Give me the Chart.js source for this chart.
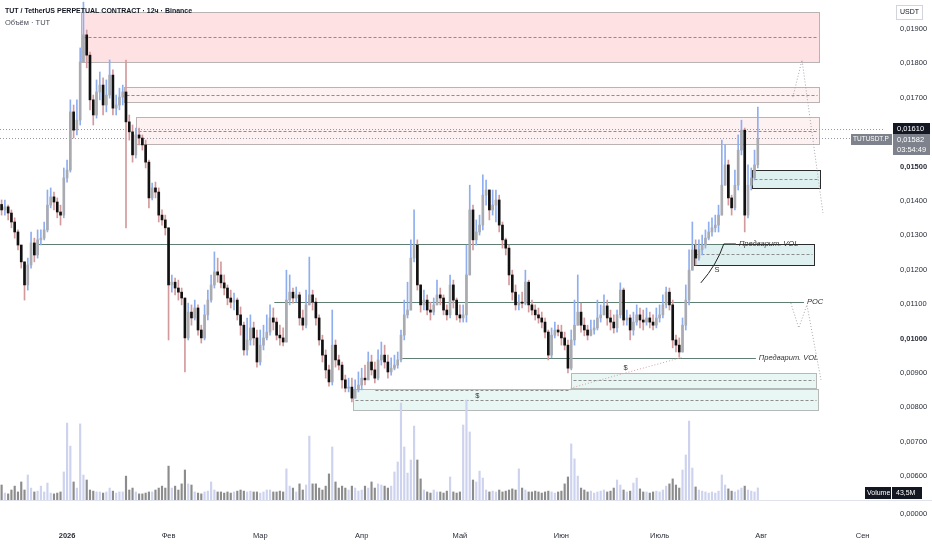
<!DOCTYPE html>
<html>
<head>
<meta charset="utf-8">
<script src="https://cdn.jsdelivr.net/npm/chart.js@4.4.1/dist/chart.umd.min.js"></script>
<style>
  html, body { margin: 0; padding: 0; background: #ffffff; }
  #wrap { width: 932px; height: 550px; }
</style>
</head>
<body>
<div id="wrap"><canvas id="tutChart" width="932" height="550"></canvas></div>
<script>
// day index 0 = 1 Jan 2026, first candle = 12 Dec 2025
const FIRST_DAY = -20;
const firstOpen = 0.01390;

// daily closes (rows of 10 days)
const closes = [
  0.01374, 0.01383, 0.01365, 0.01339, 0.01310, 0.01272, 0.01223, 0.01156, 0.01214, 0.01278,
  0.01243, 0.01287, 0.01292, 0.01316, 0.01388, 0.01412, 0.01397, 0.01368, 0.01359, 0.01467,
  0.01490, 0.01659, 0.01606, 0.01635, 0.01804, 0.01883, 0.01824, 0.01694, 0.01650, 0.01717,
  0.01737, 0.01679, 0.01708, 0.01766, 0.01670, 0.01679, 0.01702, 0.01717, 0.01630, 0.01601,
  0.01534, 0.01592, 0.01583, 0.01563, 0.01513, 0.01409, 0.01438, 0.01426, 0.01359, 0.01345,
  0.01322, 0.01156, 0.01164, 0.01147, 0.01135, 0.01118, 0.01002, 0.01077, 0.01060, 0.01089,
  0.01025, 0.01002, 0.01069, 0.01112, 0.01156, 0.01194, 0.01185, 0.01162, 0.01147, 0.01118,
  0.01106, 0.01112, 0.01069, 0.01039, 0.00967, 0.00996, 0.01031, 0.01002, 0.00932, 0.00981,
  0.01002, 0.01019, 0.01060, 0.01048, 0.01010, 0.01002, 0.00990, 0.01112, 0.01135, 0.01118,
  0.01127, 0.01060, 0.01039, 0.01098, 0.01127, 0.01106, 0.01060, 0.00996, 0.00952, 0.00909,
  0.00874, 0.00981, 0.00938, 0.00923, 0.00880, 0.00856, 0.00859, 0.00827, 0.00851, 0.00865,
  0.00885, 0.00880, 0.00932, 0.00909, 0.00885, 0.00938, 0.00952, 0.00932, 0.00903, 0.00914,
  0.00923, 0.00938, 0.01010, 0.01069, 0.01083, 0.01234, 0.01272, 0.01156, 0.01098, 0.01112,
  0.01083, 0.01077, 0.01098, 0.01127, 0.01118, 0.01083, 0.01069, 0.01156, 0.01112, 0.01069,
  0.01060, 0.01069, 0.01185, 0.01374, 0.01287, 0.01310, 0.01330, 0.01417, 0.01432, 0.01374,
  0.01388, 0.01403, 0.01330, 0.01287, 0.01263, 0.01185, 0.01135, 0.01098, 0.01106, 0.01103,
  0.01164, 0.01098, 0.01083, 0.01069, 0.01060, 0.01048, 0.01019, 0.00952, 0.01010, 0.01025,
  0.01019, 0.01002, 0.00981, 0.00914, 0.00996, 0.01039, 0.01077, 0.01039, 0.01025, 0.01010,
  0.01025, 0.01031, 0.01060, 0.01069, 0.01095, 0.01060, 0.01048, 0.01031, 0.01069, 0.01141,
  0.01054, 0.01060, 0.01025, 0.01048, 0.01069, 0.01054, 0.01048, 0.01060, 0.01048, 0.01039,
  0.01060, 0.01069, 0.01098, 0.01135, 0.01098, 0.00996, 0.00981, 0.00961, 0.01039, 0.01112,
  0.01199, 0.01258, 0.01234, 0.01258, 0.01272, 0.01292, 0.01310, 0.01322, 0.01330, 0.01359,
  0.01446, 0.01505, 0.01409, 0.01380, 0.01446, 0.01548, 0.01606, 0.01359, 0.01446, 0.01467,
  0.01505, 0.01582
];

const highs = [
  0.01403, 0.01403, 0.01388, 0.01374, 0.01351, 0.01316, 0.01272, 0.01223, 0.01234, 0.01310,
  0.01292, 0.01316, 0.01316, 0.01339, 0.01432, 0.01438, 0.01426, 0.01409, 0.01388, 0.01496,
  0.01519, 0.01694, 0.01679, 0.01694, 0.01845, 0.01978, 0.01897, 0.01833, 0.01708, 0.01752,
  0.01775, 0.01758, 0.01752, 0.01810, 0.01781, 0.01708, 0.01728, 0.01737, 0.01810, 0.01650,
  0.01621, 0.01612, 0.01612, 0.01592, 0.01577, 0.01519, 0.01452, 0.01455, 0.01438, 0.01374,
  0.01359, 0.01322, 0.01185, 0.01176, 0.01170, 0.01147, 0.01118, 0.01103, 0.01098, 0.01112,
  0.01098, 0.01039, 0.01098, 0.01141, 0.01185, 0.01252, 0.01234, 0.01223, 0.01185, 0.01156,
  0.01141, 0.01132, 0.01118, 0.01092, 0.01048, 0.01060, 0.01069, 0.01048, 0.01025, 0.01025,
  0.01039, 0.01069, 0.01098, 0.01089, 0.01060, 0.01039, 0.01031, 0.01199, 0.01185, 0.01147,
  0.01150, 0.01135, 0.01083, 0.01141, 0.01237, 0.01141, 0.01118, 0.01069, 0.01010, 0.00967,
  0.00923, 0.01083, 0.00996, 0.00952, 0.00932, 0.00894, 0.00885, 0.00885, 0.00880, 0.00903,
  0.00914, 0.00923, 0.00961, 0.00952, 0.00932, 0.00967, 0.00990, 0.00981, 0.00952, 0.00944,
  0.00952, 0.00961, 0.01025, 0.01112, 0.01164, 0.01287, 0.01374, 0.01287, 0.01156, 0.01141,
  0.01127, 0.01106, 0.01118, 0.01170, 0.01147, 0.01127, 0.01098, 0.01185, 0.01170, 0.01118,
  0.01098, 0.01098, 0.01272, 0.01446, 0.01388, 0.01345, 0.01359, 0.01476, 0.01461, 0.01417,
  0.01432, 0.01432, 0.01417, 0.01339, 0.01292, 0.01272, 0.01199, 0.01156, 0.01127, 0.01135,
  0.01199, 0.01170, 0.01112, 0.01098, 0.01089, 0.01077, 0.01060, 0.01025, 0.01031, 0.01048,
  0.01039, 0.01039, 0.01019, 0.00996, 0.01025, 0.01112, 0.01185, 0.01103, 0.01060, 0.01039,
  0.01054, 0.01054, 0.01112, 0.01098, 0.01127, 0.01112, 0.01083, 0.01069, 0.01083, 0.01162,
  0.01147, 0.01083, 0.01069, 0.01077, 0.01098, 0.01089, 0.01083, 0.01089, 0.01077, 0.01069,
  0.01089, 0.01098, 0.01127, 0.01150, 0.01147, 0.01112, 0.01010, 0.01002, 0.01060, 0.01156,
  0.01258, 0.01339, 0.01287, 0.01287, 0.01301, 0.01316, 0.01339, 0.01351, 0.01359, 0.01388,
  0.01577, 0.01563, 0.01519, 0.01417, 0.01490, 0.01592, 0.01635, 0.01612, 0.01505, 0.01496,
  0.01548, 0.01673
];

const lows = [
  0.01359, 0.01359, 0.01345, 0.01322, 0.01292, 0.01258, 0.01205, 0.01112, 0.01141, 0.01205,
  0.01223, 0.01234, 0.01272, 0.01287, 0.01310, 0.01380, 0.01374, 0.01351, 0.01330, 0.01351,
  0.01455, 0.01484, 0.01583, 0.01592, 0.01621, 0.01804, 0.01787, 0.01665, 0.01621, 0.01641,
  0.01694, 0.01650, 0.01659, 0.01699, 0.01650, 0.01650, 0.01665, 0.01679, 0.01322, 0.01577,
  0.01513, 0.01525, 0.01563, 0.01548, 0.01496, 0.01380, 0.01403, 0.01409, 0.01339, 0.01330,
  0.01301, 0.00996, 0.01135, 0.01127, 0.01112, 0.01098, 0.00903, 0.00996, 0.01039, 0.01054,
  0.01010, 0.00987, 0.00996, 0.01054, 0.01106, 0.01147, 0.01164, 0.01147, 0.01127, 0.01098,
  0.01089, 0.01083, 0.01054, 0.01010, 0.00952, 0.00952, 0.00981, 0.00981, 0.00917, 0.00923,
  0.00967, 0.00996, 0.01010, 0.01025, 0.00996, 0.00981, 0.00979, 0.00990, 0.01098, 0.01103,
  0.01106, 0.01039, 0.01025, 0.01031, 0.01098, 0.01083, 0.01039, 0.00981, 0.00932, 0.00885,
  0.00862, 0.00865, 0.00917, 0.00909, 0.00856, 0.00845, 0.00845, 0.00816, 0.00827, 0.00845,
  0.00851, 0.00865, 0.00880, 0.00894, 0.00871, 0.00880, 0.00923, 0.00914, 0.00885, 0.00894,
  0.00909, 0.00914, 0.00932, 0.00996, 0.01060, 0.01083, 0.01223, 0.01141, 0.01077, 0.01083,
  0.01069, 0.01054, 0.01069, 0.01106, 0.01098, 0.01069, 0.01054, 0.01060, 0.01089, 0.01054,
  0.01048, 0.01048, 0.01048, 0.01194, 0.01258, 0.01272, 0.01301, 0.01316, 0.01388, 0.01345,
  0.01359, 0.01339, 0.01310, 0.01263, 0.01243, 0.01156, 0.01112, 0.01083, 0.01083, 0.01089,
  0.01098, 0.01077, 0.01069, 0.01054, 0.01045, 0.01031, 0.01002, 0.00938, 0.00944, 0.01002,
  0.01008, 0.00981, 0.00967, 0.00900, 0.00909, 0.00981, 0.01054, 0.01019, 0.01008, 0.00996,
  0.01008, 0.01013, 0.01025, 0.01048, 0.01069, 0.01039, 0.01025, 0.01016, 0.01019, 0.01060,
  0.01039, 0.01039, 0.00996, 0.01010, 0.01039, 0.01031, 0.01025, 0.01039, 0.01031, 0.01025,
  0.01031, 0.01048, 0.01060, 0.01089, 0.01083, 0.00973, 0.00961, 0.00946, 0.00967, 0.01025,
  0.01098, 0.01205, 0.01214, 0.01228, 0.01243, 0.01263, 0.01287, 0.01298, 0.01310, 0.01310,
  0.01359, 0.01446, 0.01388, 0.01359, 0.01374, 0.01432, 0.01534, 0.01310, 0.01351, 0.01432,
  0.01461, 0.01496
];

// volume, millions of TUT
const volumes = [
  54, 25, 22, 36, 50, 29, 65, 36, 90, 43,
  29, 32, 50, 29, 61, 25, 22, 25, 29, 101,
  277, 194, 65, 43, 274, 90, 72, 36, 32, 29,
  29, 25, 29, 43, 32, 25, 29, 29, 86, 36,
  43, 29, 22, 22, 25, 29, 29, 36, 43, 50,
  43, 122, 43, 50, 36, 58, 108, 58, 54, 29,
  25, 22, 29, 32, 65, 36, 29, 29, 25, 29,
  25, 29, 32, 36, 32, 29, 32, 29, 29, 25,
  29, 36, 36, 29, 29, 32, 29, 112, 50, 43,
  29, 58, 36, 54, 230, 58, 58, 43, 36, 50,
  94, 191, 65, 43, 50, 43, 36, 50, 43, 32,
  36, 50, 43, 65, 43, 58, 54, 50, 43, 50,
  101, 137, 349, 191, 97, 144, 266, 144, 76, 36,
  29, 25, 36, 29, 29, 25, 32, 83, 29, 25,
  29, 270, 360, 245, 72, 65, 104, 79, 36, 29,
  32, 29, 36, 29, 32, 36, 40, 36, 112, 43,
  36, 29, 29, 32, 29, 25, 29, 32, 29, 25,
  29, 32, 58, 83, 202, 148, 86, 43, 36, 29,
  32, 25, 29, 32, 36, 29, 32, 43, 72, 54,
  36, 29, 32, 61, 79, 40, 29, 29, 25, 29,
  32, 29, 36, 50, 58, 76, 54, 43, 108, 162,
  284, 115, 47, 36, 32, 29, 25, 29, 25, 32,
  90, 54, 40, 32, 29, 36, 43, 50, 36, 32,
  29, 43.5
];

const priceTicks = [0.006, 0.007, 0.008, 0.009, 0.010, 0.011, 0.012, 0.013, 0.014, 0.015, 0.016, 0.017, 0.018, 0.019];
const monthDays = [0, 31, 59, 90, 120, 151, 181, 212, 243];
const monthLabels = ['2026', 'Фев', 'Мар', 'Апр', 'Май', 'Июн', 'Июль', 'Авг', 'Сен'];

// drawn zones (day index / price)
const zones = [
  { d0: 4.2, d1: 229.7, top: 0.01949, bottom: 0.01804, mid: 0.01877, kind: 'redStrong' },
  { d0: 17.4, d1: 229.7, top: 0.01731, bottom: 0.01688, mid: 0.01708, kind: 'red' },
  { d0: 21.1, d1: 229.7, top: 0.01644, bottom: 0.01566, mid: 0.01603, kind: 'red' },
  { d0: 209.2, d1: 230.0, top: 0.01490, bottom: 0.01438, mid: 0.01464, kind: 'greenDark' },
  { d0: 191.4, d1: 228.1, top: 0.01275, bottom: 0.01214, mid: 0.01246, kind: 'greenDark' },
  { d0: 153.8, d1: 228.7, top: 0.00900, bottom: 0.00856, mid: 0.00880, kind: 'green' },
  { d0: 87.2, d1: 229.4, top: 0.00854, bottom: 0.00792, mid: 0.00822, kind: 'green' }
];
const levels = [
  { price: 0.01275, d0: -8.9, d1: 204.3, label: 'Предварит. VOL' },
  { price: 0.01106, d0: 63.3, d1: 225.1, label: 'POC' },
  { price: 0.00944, d0: 102.4, d1: 210.4, label: 'Предварит. VOL' }
];
const priceLines = [0.01610, 0.01582];
const lastPrice = 0.01582;
const markPrice = 0.01610;

const FONT = '"Liberation Sans", Arial, sans-serif';

const days = closes.map((_, i) => FIRST_DAY + i);
const opens = closes.map((c, i) => i === 0 ? firstOpen : closes[i - 1]);
const isUp = closes.map((c, i) => c >= opens[i]);

const bodyData = days.map((d, i) => ({ x: d, y: [opens[i], closes[i]] }));
const wickData = days.map((d, i) => ({
  x: d,
  y: [Math.min(lows[i], opens[i], closes[i]), Math.max(highs[i], opens[i], closes[i])]
}));
const volData = days.map((d, i) => ({ x: d, y: volumes[i] }));

function seg(ctx, x0, y0, x1, y1) {
  ctx.beginPath();
  ctx.moveTo(x0, y0);
  ctx.lineTo(x1, y1);
  ctx.stroke();
}

const zoneStyles = {
  redStrong: { fill: 'rgba(242, 54, 69, 0.15)', border: '#b9b3b4', width: 1 },
  red: { fill: 'rgba(242, 54, 69, 0.07)', border: '#b9b3b4', width: 1 },
  greenDark: { fill: 'rgba(0, 150, 136, 0.13)', border: '#2b2b2b', width: 1 },
  green: { fill: 'rgba(0, 150, 136, 0.09)', border: '#b5b9b8', width: 1 }
};

const overlayPlugin = {
  id: 'overlay',
  beforeDatasetsDraw(chart) {
    const { ctx, chartArea: a, scales: { x, y } } = chart;
    const X = d => x.getPixelForValue(d);
    const Y = p => y.getPixelForValue(p);
    ctx.save();
    ctx.beginPath();
    ctx.rect(a.left, a.top, a.right - a.left, a.bottom - a.top);
    ctx.clip();

    // zones
    zones.forEach(z => {
      const st = zoneStyles[z.kind];
      const x0 = Math.round(X(z.d0)) + 0.5, x1 = Math.round(X(z.d1)) + 0.5;
      const y0 = Math.round(Y(z.top)) + 0.5, y1 = Math.round(Y(z.bottom)) + 0.5;
      ctx.fillStyle = st.fill;
      ctx.fillRect(x0, y0, x1 - x0, y1 - y0);
      ctx.setLineDash([]);
      ctx.strokeStyle = st.border;
      ctx.lineWidth = st.width;
      ctx.strokeRect(x0, y0, x1 - x0, y1 - y0);
      ctx.setLineDash([3, 2]);
      ctx.strokeStyle = '#8d8d8d';
      const ym = Math.round(Y(z.mid)) + 0.5;
      seg(ctx, x0 + 2, ym, x1 - 2, ym);
    });

    // dotted current price lines
    ctx.setLineDash([1, 2]);
    ctx.strokeStyle = '#9598a1';
    priceLines.forEach(p => {
      const yy = Math.round(Y(p)) + 0.5;
      seg(ctx, a.left, yy, a.right, yy);
    });

    // level lines
    ctx.setLineDash([]);
    ctx.strokeStyle = '#5f7f72';
    ctx.lineWidth = 1.2;
    levels.forEach(l => {
      const yy = Math.round(Y(l.price)) + 0.5;
      seg(ctx, X(l.d0), yy, X(l.d1), yy);
    });

    // liquidity lines
    ctx.lineWidth = 1;
    ctx.setLineDash([3, 2]);
    ctx.strokeStyle = '#8d8d8d';
    seg(ctx, X(94.2), Math.round(Y(0.00851)) + 0.5, X(153.8), Math.round(Y(0.00851)) + 0.5);
    ctx.setLineDash([1, 2]);
    ctx.strokeStyle = '#d8a0a4';
    seg(ctx, X(153.8), Y(0.00856), X(188.1), Y(0.00946));

    // S curve
    ctx.setLineDash([]);
    ctx.strokeStyle = '#222';
    ctx.beginPath();
    ctx.moveTo(X(193.6), Y(0.01162));
    ctx.quadraticCurveTo(X(198.5), Y(0.01215), X(200.6), Y(0.01275));
    ctx.lineTo(X(204.3), Y(0.01275));
    ctx.stroke();

    // projections
    ctx.setLineDash([1, 2]);
    ctx.strokeStyle = '#a3a6ad';
    [
      [[221.7, 0.01702], [224.5, 0.01810], [230.9, 0.01365]],
      [[221.1, 0.01103], [223.5, 0.01031], [226.0, 0.01098], [230.3, 0.00880]]
    ].forEach(path => {
      ctx.beginPath();
      path.forEach(([d, p], k) => k ? ctx.lineTo(X(d), Y(p)) : ctx.moveTo(X(d), Y(p)));
      ctx.stroke();
    });
    ctx.restore();
  },
  afterDraw(chart) {
    const { ctx, chartArea: a, scales: { x, y } } = chart;
    const X = d => x.getPixelForValue(d);
    const Y = p => y.getPixelForValue(p);
    ctx.save();

    // labels on drawings
    ctx.font = 'italic 7.5px ' + FONT;
    ctx.fillStyle = '#333';
    ctx.textBaseline = 'middle';
    ctx.textAlign = 'left';
    levels.forEach(l => ctx.fillText(l.label, X(l.d1) + 3, Y(l.price)));
    ctx.font = '7.5px ' + FONT;
    ctx.textAlign = 'center';
    ctx.fillText('$', X(125.3), Y(0.00833));
    ctx.fillText('$', X(170.6), Y(0.00914));
    ctx.fillText('S', X(198.5), Y(0.01199));

    // header
    ctx.textAlign = 'left';
    ctx.fillStyle = '#131722';
    ctx.font = 'bold 7px ' + FONT;
    ctx.fillText('TUT / TetherUS PERPETUAL CONTRACT · 12ч · Binance', 5, 11);
    ctx.font = '7.5px ' + FONT;
    ctx.fillStyle = '#4a4e59';
    ctx.fillText('Объём · TUT', 5, 23);

    // pane separator and lower pane
    ctx.strokeStyle = '#e0e3eb';
    ctx.lineWidth = 1;
    seg(ctx, 0, a.bottom + 0.5, 932, a.bottom + 0.5);
    ctx.fillStyle = '#2a2e39';
    ctx.font = '7.5px ' + FONT;
    ctx.fillText('0,00000', 900, 514);

    // USDT box
    ctx.fillStyle = '#ffffff';
    ctx.strokeStyle = '#d1d4dc';
    ctx.fillRect(896.5, 5.5, 26, 14);
    ctx.strokeRect(896.5, 5.5, 26, 14);
    ctx.fillStyle = '#131722';
    ctx.textAlign = 'center';
    ctx.font = '7px ' + FONT;
    ctx.fillText('USDT', 909.5, 12.5);

    // mark price tag
    const ym = Math.round(Y(markPrice));
    ctx.fillStyle = '#131722';
    ctx.fillRect(893, ym - 6, 37, 12);
    ctx.fillStyle = '#ffffff';
    ctx.textAlign = 'left';
    ctx.font = '7.5px ' + FONT;
    ctx.fillText('0,01610', 897, ym);

    // last price tag
    const yl = Math.round(Y(lastPrice));
    ctx.fillStyle = '#7e828c';
    ctx.fillRect(851, yl - 4, 41, 11);
    ctx.fillRect(893, yl - 4, 37, 21);
    ctx.fillStyle = '#ffffff';
    ctx.font = '6.5px ' + FONT;
    ctx.fillText('TUTUSDT.P', 853, yl + 1.5);
    ctx.font = '7.5px ' + FONT;
    ctx.fillText('0,01582', 897, yl + 1.5);
    ctx.fillText('03:54:49', 897, yl + 11.5);

    // volume tag
    ctx.fillStyle = '#131722';
    ctx.fillRect(865, 487, 26, 12);
    ctx.fillRect(892, 487, 30, 12);
    ctx.fillStyle = '#ffffff';
    ctx.font = '7px ' + FONT;
    ctx.fillText('Volume', 867, 493);
    ctx.fillText('43,5M', 896, 493);
    ctx.restore();
  }
};

new Chart(document.getElementById('tutChart'), {
  type: 'bar',
  data: {
    datasets: [
      {
        label: 'body',
        data: bodyData,
        backgroundColor: isUp.map(u => u ? '#a9abb1' : '#111111'),
        barThickness: 2,
        minBarLength: 1,
        grouped: false,
        yAxisID: 'y',
        order: 1
      },
      {
        label: 'wick',
        data: wickData,
        backgroundColor: isUp.map(u => u ? '#8eaef0' : '#d39a9d'),
        barThickness: 1,
        grouped: false,
        yAxisID: 'y',
        order: 2
      },
      {
        label: 'volume',
        data: volData,
        backgroundColor: isUp.map(u => u ? '#cdd2ee' : '#8c8c8c'),
        barThickness: 1.5,
        grouped: false,
        yAxisID: 'yv',
        order: 3
      }
    ]
  },
  options: {
    responsive: false,
    animation: false,
    events: [],
    layout: { padding: 0 },
    plugins: {
      legend: { display: false },
      tooltip: { enabled: false },
      title: { display: false }
    },
    scales: {
      x: {
        type: 'linear',
        offset: false,
        min: -20.49,
        max: 249.85,
        grid: { display: false, offset: false, drawTicks: false },
        border: { display: false },
        afterBuildTicks: scale => {
          scale.ticks = monthDays.map(v => ({ value: v }));
        },
        afterFit: scale => {
          scale.height = 50;
        },
        ticks: {
          autoSkip: false,
          maxRotation: 0,
          padding: 31,
          color: '#2a2e39',
          font: ctx => ({ family: FONT, size: 7.5, weight: ctx.index === 0 ? 'bold' : 'normal' }),
          callback: (value, index) => monthLabels[index]
        }
      },
      y: {
        type: 'linear',
        position: 'right',
        min: 0.005308,
        max: 0.019843,
        grid: { display: false, drawTicks: false },
        border: { display: false },
        afterBuildTicks: scale => {
          scale.ticks = priceTicks.map(v => ({ value: v }));
        },
        afterFit: scale => {
          scale.width = 47;
          scale.paddingTop = 0;
          scale.paddingBottom = 0;
        },
        ticks: {
          padding: 15,
          color: '#2a2e39',
          font: ctx => ({
            family: FONT,
            size: 7.5,
            weight: (ctx.tick && (Math.abs(ctx.tick.value - 0.010) < 1e-9 || Math.abs(ctx.tick.value - 0.015) < 1e-9)) ? 'bold' : 'normal'
          }),
          callback: v => v.toFixed(5).replace('.', ',')
        }
      },
      yv: {
        type: 'linear',
        display: false,
        min: 0,
        max: 1800
      }
    }
  },
  plugins: [overlayPlugin]
});
</script>
</body>
</html>
